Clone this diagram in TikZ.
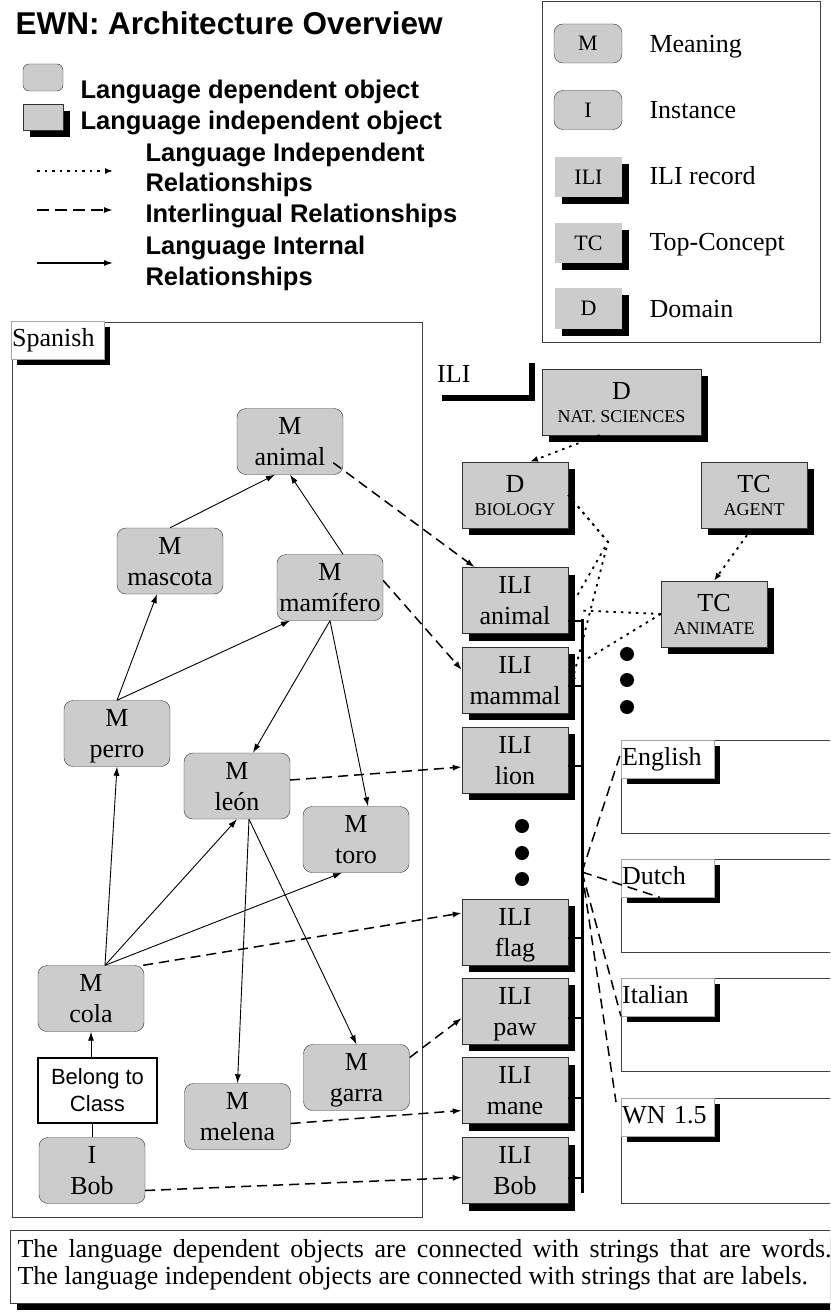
\documentclass[tikz,border=0pt]{standalone}
\usepackage{fontspec}
\setmainfont{Liberation Serif}
\setsansfont{Liberation Sans}
\usetikzlibrary{arrows.meta, shadows}

\definecolor{boxgray}{HTML}{CCCCCC}
\newcommand{\nodefont}{\fontsize{26}{31}\selectfont}
\newcommand{\capsfont}{\fontsize{18}{22}\selectfont}
\newcommand{\keyletters}{\fontsize{22}{26}\selectfont}
\newcommand{\keyfont}{\sffamily\bfseries\fontsize{25.5}{30}\selectfont}

\tikzset{
    dark shadow/.style={drop shadow={shadow xshift=#1, shadow yshift=-#1, opacity=1, fill=black}},
    dark shadow/.default=7pt,
    meaning/.style={draw=black!80, fill=boxgray, rounded corners=9pt, minimum width=106pt, minimum height=66pt,
        inner sep=1pt, align=center, text depth=0pt, font=\nodefont},
    record/.style={meaning, sharp corners, dark shadow},
    tab/.style={fill=white, draw=black!35, text width=91pt, inner sep=1pt, minimum height=38pt,
        text height=18pt, text depth=6pt, font=\nodefont, dark shadow=6pt, anchor=north west},
    langframe/.style={draw=black!75, line width=0.8pt},
    internal/.style={-{Latex[length=9pt, width=6pt]}, line width=0.9pt},
    interlingual/.style={-{Latex[length=9pt, width=6pt]}, line width=1.5pt, dash pattern=on 10pt off 6pt},
    independent/.style={-{Latex[length=8pt, width=6pt]}, line width=1.8pt, dash pattern=on 2.5pt off 5pt},
    bigdot/.style={circle, fill=black, inner sep=0pt, minimum size=14pt},
}

\begin{document}
\begin{tikzpicture}[x=1pt, y=-1pt]
    \clip (0,0) rectangle (830,1313);
    \useasboundingbox (0,0) rectangle (830,1313);

    % Title and key
    \node[anchor=base west, font=\sffamily\bfseries\fontsize{31.5}{36}\selectfont] (title) at (12,35) {EWN: Architecture Overview};
    \node[meaning, minimum width=40pt, minimum height=27pt, rounded corners=6pt] (keydep) at (43,77.5) {};
    \node[record, minimum width=40pt, minimum height=26pt] (keyindep) at (43,117) {};
    \node[anchor=base west, font=\keyfont] (keydeptext) at (77,99) {Language dependent object};
    \node[anchor=base west, font=\keyfont] (keyindeptext) at (77,130) {Language independent object};
    \node[anchor=base west, font=\keyfont] (keylir) at (142,162) {Language Independent};
    \node[anchor=base west, font=\keyfont] (keylirb) at (142,192) {Relationships};
    \node[anchor=base west, font=\keyfont] (keyilr) at (142,223) {Interlingual Relationships};
    \node[anchor=base west, font=\keyfont] (keylin) at (142,255) {Language Internal};
    \node[anchor=base west, font=\keyfont] (keylinb) at (142,286) {Relationships};
    \draw[independent, line width=1.5pt] (37,171) -- (113,171); % sample lines
    \draw[interlingual, dash pattern=on 12pt off 6pt] (37,210) -- (113,210);
    \draw[internal, line width=1.2pt] (37,263) -- (113,263);

    % Object types
    \draw[langframe] (542,1) rectangle (820,342);
    \node[meaning, minimum width=68pt, minimum height=39pt, font=\keyletters] (keyM) at (588,43.5) {M};
    \node[meaning, minimum width=68pt, minimum height=39pt, font=\keyletters] (keyI) at (588,110) {I};
    \node[record, draw=none, minimum width=67pt, minimum height=40pt, font=\keyletters] (keyILI) at (588.5,177) {ILI};
    \node[record, draw=none, minimum width=67pt, minimum height=40pt, font=\keyletters] (keyTC) at (588.5,243) {TC};
    \node[record, draw=none, minimum width=67pt, minimum height=40pt, font=\keyletters] (keyD) at (588.5,308.5) {D};
    \node[anchor=base west, font=\nodefont] (keyMtext) at (646,53) {Meaning};
    \node[anchor=base west, font=\nodefont] (keyItext) at (646,119) {Instance};
    \node[anchor=base west, font=\nodefont] (keyILItext) at (646,185) {ILI record};
    \node[anchor=base west, font=\nodefont] (keyTCtext) at (646,251) {Top-Concept};
    \node[anchor=base west, font=\nodefont] (keyDtext) at (646,317) {Domain};

    % Spanish wordnet
    \draw[langframe] (12,322) rectangle (422,1217);
    \node[tab] (spanish) at (11,321) {Spanish};
    \node[meaning] (animal) at (290,441.5) {M\\animal};
    \node[meaning] (mascota) at (170,561) {M\\mascota};
    \node[meaning] (mamifero) at (330,587.5) {M\\mamífero};
    \node[meaning] (perro) at (117,733.5) {M\\perro};
    \node[meaning] (leon) at (237,786) {M\\león};
    \node[meaning] (toro) at (356,839.5) {M\\toro};
    \node[meaning] (cola) at (91,998.5) {M\\cola};
    \node[meaning] (garra) at (356.5,1077.5) {M\\garra};
    \node[meaning] (melena) at (237.5,1116.5) {M\\melena};
    \node[meaning] (bob) at (92,1170.5) {I\\Bob};
    \node[draw, line width=1.2pt, fill=white, minimum width=119pt, minimum height=65pt, align=center,
        font=\sffamily\fontsize{22}{27}\selectfont] (belong) at (97.5,1090.5) {Belong to\\Class};

    \draw[internal] (mascota.north) -- ([xshift=-15pt]animal.south);
    \draw[internal] ([xshift=13pt]mamifero.north) -- (animal.south);
    \draw[internal] (perro.north) -- ([xshift=-13pt]mascota.south);
    \draw[internal] (perro.north) -- ([xshift=-40pt]mamifero.south);
    \draw[internal] (mamifero.south) -- ([xshift=16pt]leon.north);
    \draw[internal] (mamifero.south) -- ([xshift=12pt]toro.north);
    \draw[internal] ([xshift=14pt]cola.north) -- (perro.south);
    \draw[internal] ([xshift=14pt]cola.north) -- (leon.south);
    \draw[internal] ([xshift=14pt]cola.north) -- ([xshift=-14pt]toro.south);
    \draw[internal] ([xshift=12pt]leon.south) -- (melena.north);
    \draw[internal] ([xshift=12pt]leon.south) -- (garra.north);
    \draw[internal] (belong.north -| cola.south) -- (cola.south);
    \draw[line width=0.9pt] (bob.north) -- (bob.north |- belong.south);

    % ILI
    \node[tab, draw=none] (ili) at (436,357) {ILI};
    \node[record, minimum width=159pt] (natsci) at (621.5,402) {D\\[-8pt]{\capsfont NAT. SCIENCES}};
    \node[record] (biology) at (515,495) {D\\[-8pt]{\capsfont BIOLOGY}};
    \node[record] (agent) at (754,495) {TC\\[-8pt]{\capsfont AGENT}};
    \node[record] (animate) at (714,614) {TC\\[-8pt]{\capsfont ANIMATE}};
    \node[record] (ilianimal) at (515,600.5) {ILI\\animal};
    \node[record] (ilimammal) at (515,680) {ILI\\mammal};
    \node[record] (ililion) at (515,760) {ILI\\lion};
    \node[record] (iliflag) at (515,932) {ILI\\flag};
    \node[record] (ilipaw) at (515,1011) {ILI\\paw};
    \node[record] (ilimane) at (515,1090.5) {ILI\\mane};
    \node[record] (ilibob) at (515,1170.5) {ILI\\Bob};
    \foreach \y in {654,680,707} \node[bigdot] (more\y) at (627,\y) {};
    \foreach \y in {826,853,879} \node[bigdot] (gap\y) at (522,\y) {};

    \coordinate (bartop) at (582,619);
    \coordinate (barbot) at (582,1193);
    \draw[line width=3pt] (bartop) -- (barbot); % ILI bar
    \foreach \n/\d in {ilianimal/20, ilimammal/6, ililion/6, iliflag/6, ilipaw/7, ilimane/7, ilibob/7}
        \draw[line width=2pt] ([yshift=-\d pt]\n.east) -- ++(14,0);

    \coordinate (bend) at (608,542);
    \draw[independent] ([xshift=-22pt]natsci.south) -- ([xshift=15pt]biology.north);
    \draw[independent] ([xshift=-7pt, yshift=-7pt]agent.south) -- (animate.north);
    \draw[independent, -] (biology.east) -- (bend) -- ([xshift=9pt, yshift=5pt]ilianimal.east);
    \draw[independent] (biology.east) -- (bend) -- ([xshift=3pt, yshift=-5pt]ilimammal.east);
    \draw[independent, -] (animate.west) -- ([xshift=13pt, yshift=-10pt]ilianimal.east);
    \draw[independent, -] (animate.west) -- ([xshift=12pt, yshift=17pt]ilimammal.east);

    \draw[interlingual] ([xshift=-10pt, yshift=12pt]animal.south east) -- ([xshift=13pt]ilianimal.north west);
    \draw[interlingual] ([yshift=7pt]mamifero.east) -- ([yshift=10pt]ilimammal.west);
    \draw[interlingual] ([yshift=6pt]leon.east) -- ([yshift=-7pt]ililion.west);
    \draw[interlingual] ([xshift=-1pt]cola.north east) -- ([yshift=19pt]iliflag.west);
    \draw[interlingual] ([yshift=20pt]garra.east) -- ([yshift=-7pt]ilipaw.west);
    \draw[interlingual] ([yshift=-7pt]melena.east) -- ([yshift=-20pt]ilimane.west);
    \draw[interlingual] ([yshift=-20pt]bob.east) -- ([yshift=-7pt]ilibob.west);

    % Other wordnets
    \draw[langframe] (621,740) rectangle (840,833);
    \draw[langframe] (621,859) rectangle (840,952);
    \draw[langframe] (621,978) rectangle (840,1071);
    \draw[langframe] (621,1098) rectangle (840,1203);
    \node[tab] (english) at (621,740) {English};
    \node[tab] (dutch) at (621,859) {Dutch};
    \node[tab] (italian) at (621,978) {Italian};
    \node[tab] (wordnet) at (621,1098) {WN 1.5};
    \coordinate (hub) at (582,872);
    \draw[interlingual, -] (hub) -- ([yshift=7pt]english.west);
    \draw[interlingual, -] (hub) -- ([xshift=39pt]dutch.south west);
    \draw[interlingual, -] (hub) -- (italian.south west);
    \draw[interlingual, -] (hub) -- ([xshift=-5pt, yshift=-4pt]wordnet.north west);

    % Note
    \node[draw=black!75, fill=white, dark shadow, minimum width=830pt, minimum height=73pt, anchor=north west] (notebox) at (10,1230) {};
    \node[anchor=base west, font=\nodefont] (notea) at (14,1257) {\makebox[814pt][s]{The language dependent objects are connected with strings that are words.}};
    \node[anchor=base west, font=\nodefont] (noteb) at (14,1284) {The language independent objects are connected with strings that are labels.};
\end{tikzpicture}
\end{document}
